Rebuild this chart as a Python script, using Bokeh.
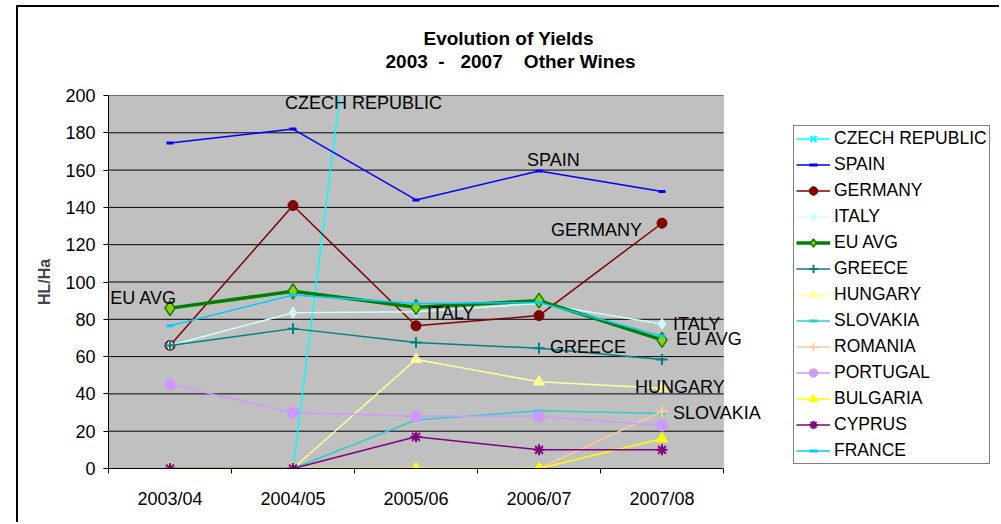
from bokeh.plotting import figure
from bokeh.models import Range1d, FixedTicker, Legend, LegendItem, Label, Title, BoxAnnotation
from bokeh.embed import file_html
from bokeh.resources import INLINE

# ---------------- data ----------------
categories = ["2003/04", "2004/05", "2005/06", "2006/07", "2007/08"]
y_ticks = [0, 20, 40, 60, 80, 100, 120, 140, 160, 180, 200]

czech_republic = [0, 0, 525, 480, 450]
spain = [174.5, 182, 144, 159.5, 148.5]
germany = [66, 141, 76.5, 82, 131.5]
italy = [66, 83.5, 84, 88.5, 77.5]
eu_avg = [86, 95, 86.5, 90, 69]
greece = [66, 75, 67.5, 64.5, 58.5]
hungary = [0, 0, 58.5, 46.5, 43]
slovakia = [0, 0, 26, 31, 29.5]
romania = [0, 0, 0, 0, 30.5]
portugal = [45, 30, 28, 28, 23]
bulgaria = [0, 0, 0, 0, 16]
cyprus = [0, 0, 17, 10, 10]
france = [76.5, 93, 88.5, 89, 71]

title_line1 = "Evolution of Yields"
title_line2 = "2003\u00a0\u00a0-\u00a0\u00a0\u00a02007\u00a0\u00a0\u00a0\u00a0Other Wines"
y_label = "HL/Ha"

# name, values, color, marker, marker size, line width, fill
series = [
    ("CZECH REPUBLIC", czech_republic, "#00FFFF", "x", 9, 1.5, "#00FFFF"),
    ("SPAIN", spain, "#0000FF", "dash", 7, 1.5, "#0000FF"),
    ("GERMANY", germany, "#800000", "circle", 10, 1.5, "#800000"),
    ("ITALY", italy, "#CCFFFF", "diamond", 11, 1.5, "#CCFFFF"),
    ("EU AVG", eu_avg, "#008000", "diamond", 15, 3.5, "#99CC00"),
    ("GREECE", greece, "#008080", "cross", 11, 1.5, "#008080"),
    ("HUNGARY", hungary, "#FFFF99", "triangle", 11, 1.5, "#FFFF99"),
    ("SLOVAKIA", slovakia, "#33CCCC", "dash", 7, 1.5, "#33CCCC"),
    ("ROMANIA", romania, "#FFCC99", "cross", 11, 1.5, "#FFCC99"),
    ("PORTUGAL", portugal, "#CC99FF", "circle", 11, 1.5, "#CC99FF"),
    ("BULGARIA", bulgaria, "#FFFF00", "triangle", 11, 1.5, "#FFFF00"),
    ("CYPRUS", cyprus, "#800080", "asterisk", 11, 1.5, "#800080"),
    ("FRANCE", france, "#00CCFF", "dash", 7, 1.5, "#00CCFF"),
]

FONT = "Liberation Sans"
OFF_X, OFF_Y = 18, 7            # figure position on the page (margin)
W, H = 1001 - OFF_X, 524 - OFF_Y
ML, MT, MB, MR = 108 - OFF_X, 95 - OFF_Y, 524 - 468, 0
GRAY_W = 615                      # width of the grey plot area in px
PX_X = GRAY_W / len(categories)   # px per category
PX_Y = (H - MT - MB) / y_ticks[-1]
X_END = (W - ML - MR) / PX_X

xs = [i + 0.5 for i in range(len(categories))]

p = figure(width=W, height=H, x_range=Range1d(0, X_END),
           y_range=Range1d(y_ticks[0], y_ticks[-1]),
           output_backend="svg", toolbar_location=None,
           min_border_left=ML, min_border_right=MR,
           min_border_top=MT, min_border_bottom=MB)
p.margin = (OFF_Y, 0, 0, OFF_X)
p.styles = {"box-shadow": "-2px -2px 0px 0px #000000"}

p.background_fill_color = "white"
p.border_fill_color = "white"
p.outline_line_color = None

# grey plot area + grid lines (limited to the categories)
p.add_layout(BoxAnnotation(left=0, right=len(categories), bottom=y_ticks[0], top=y_ticks[-1],
                           fill_color="#C0C0C0", fill_alpha=1, line_color="#808080",
                           line_width=1, level="image"))
p.xgrid.visible = False
p.ygrid.visible = False
p.segment(x0=0, x1=len(categories), y0=y_ticks, y1=y_ticks, line_color="black",
          line_width=1, level="underlay")

# titles (spacer keeps them where the reference has them)
spacer = Title(text="\u00a0", text_font=FONT, text_font_size="10px", standoff=11)
p.add_layout(spacer, "above")
t2 = Title(text=title_line2, align="left", offset=277, text_font=FONT,
           text_font_size="19px", text_font_style="bold", text_color="black", standoff=0)
p.add_layout(t2, "above")
t1 = Title(text=title_line1, align="left", offset=315, text_font=FONT,
           text_font_size="19px", text_font_style="bold", text_color="black", standoff=0)
p.add_layout(t1, "above")

# axes
p.xaxis.bounds = (0, len(categories))
p.xaxis.ticker = FixedTicker(ticks=xs, minor_ticks=list(range(len(categories) + 1)))
p.xaxis.major_label_overrides = {x: c for x, c in zip(xs, categories)}
p.xaxis.major_tick_line_color = None
p.xaxis.major_tick_in = 0
p.xaxis.major_tick_out = 0
p.xaxis.minor_tick_in = 0
p.xaxis.minor_tick_out = 5
p.xaxis.minor_tick_line_color = "black"
p.xaxis.major_label_standoff = 15

p.yaxis.ticker = FixedTicker(ticks=y_ticks, minor_ticks=[])
p.yaxis.major_tick_in = 0
p.yaxis.major_tick_out = 5
p.yaxis.major_label_standoff = 8
p.yaxis.axis_label = y_label
p.yaxis.axis_label_text_font = FONT
p.yaxis.axis_label_text_font_size = "16px"
p.yaxis.axis_label_text_font_style = "bold"
p.yaxis.axis_label_standoff = 9

for ax in (p.xaxis, p.yaxis):
    ax.axis_line_color = "black"
    ax.major_tick_line_width = 1
    ax.major_label_text_font = FONT
    ax.major_label_text_font_size = "18px"
    ax.major_label_text_color = "black"

# series
items = []
for name, vals, color, marker, msize, lw, fill in series:
    r_line = p.line(xs, vals, line_color=color, line_width=lw)
    if marker in ("x", "cross", "asterisk", "dash"):
        r_mark = p.scatter(xs, vals, marker=marker, size=msize, line_color=color,
                           line_width=2 if marker != "dash" else 3)
    else:
        r_mark = p.scatter(xs, vals, marker=marker, size=msize, fill_color=fill,
                           line_color=color, line_width=1.5 if name == "EU AVG" else 1)
    items.append(LegendItem(label=name, renderers=[r_line, r_mark]))

legend = Legend(items=items, location=(685, 4), margin=0, padding=2,
                glyph_width=34, glyph_height=21, label_height=21, spacing=5,
                label_standoff=4, label_text_font=FONT, label_text_font_size="17.5px",
                label_text_color="black", border_line_color="black", border_line_width=1,
                background_fill_color="white", background_fill_alpha=1)
p.add_layout(legend)

# data labels: (text, series, index, dx px, dy px (up), align)
vals_of = {n: v for n, v, *_ in series}
label_specs = [
    ("SPAIN", "SPAIN", 3, -12, 11, "left"),
    ("GERMANY", "GERMANY", 4, -20, -7, "right"),
    ("ITALY", "ITALY", 2, 11, -1, "left"),
    ("ITALY", "ITALY", 4, 11, 0, "left"),
    ("EU AVG", "EU AVG", 4, 14, 1, "left"),
    ("EU AVG", "EU AVG", 0, 7, 10, "right"),
    ("GREECE", "GREECE", 3, 11, 1, "left"),
    ("HUNGARY", "HUNGARY", 4, -27, 1, "left"),
    ("SLOVAKIA", "SLOVAKIA", 4, 11, 0, "left"),
]
for text, sname, idx, dx, dy, align in label_specs:
    p.add_layout(Label(x=xs[idx] + dx / PX_X, y=vals_of[sname][idx] + dy / PX_Y, text=text,
                       text_font=FONT, text_font_size="18px", text_color="black",
                       text_align=align, text_baseline="middle"))
# Czech Republic label sits at the top edge of the plot area
p.add_layout(Label(x=xs[1] - 8 / PX_X, y=y_ticks[-1] - 7 / PX_Y, text="CZECH REPUBLIC",
                   text_font=FONT, text_font_size="18px", text_color="black",
                   text_align="left", text_baseline="middle"))

open("out.html", "w").write(file_html(p, INLINE))
